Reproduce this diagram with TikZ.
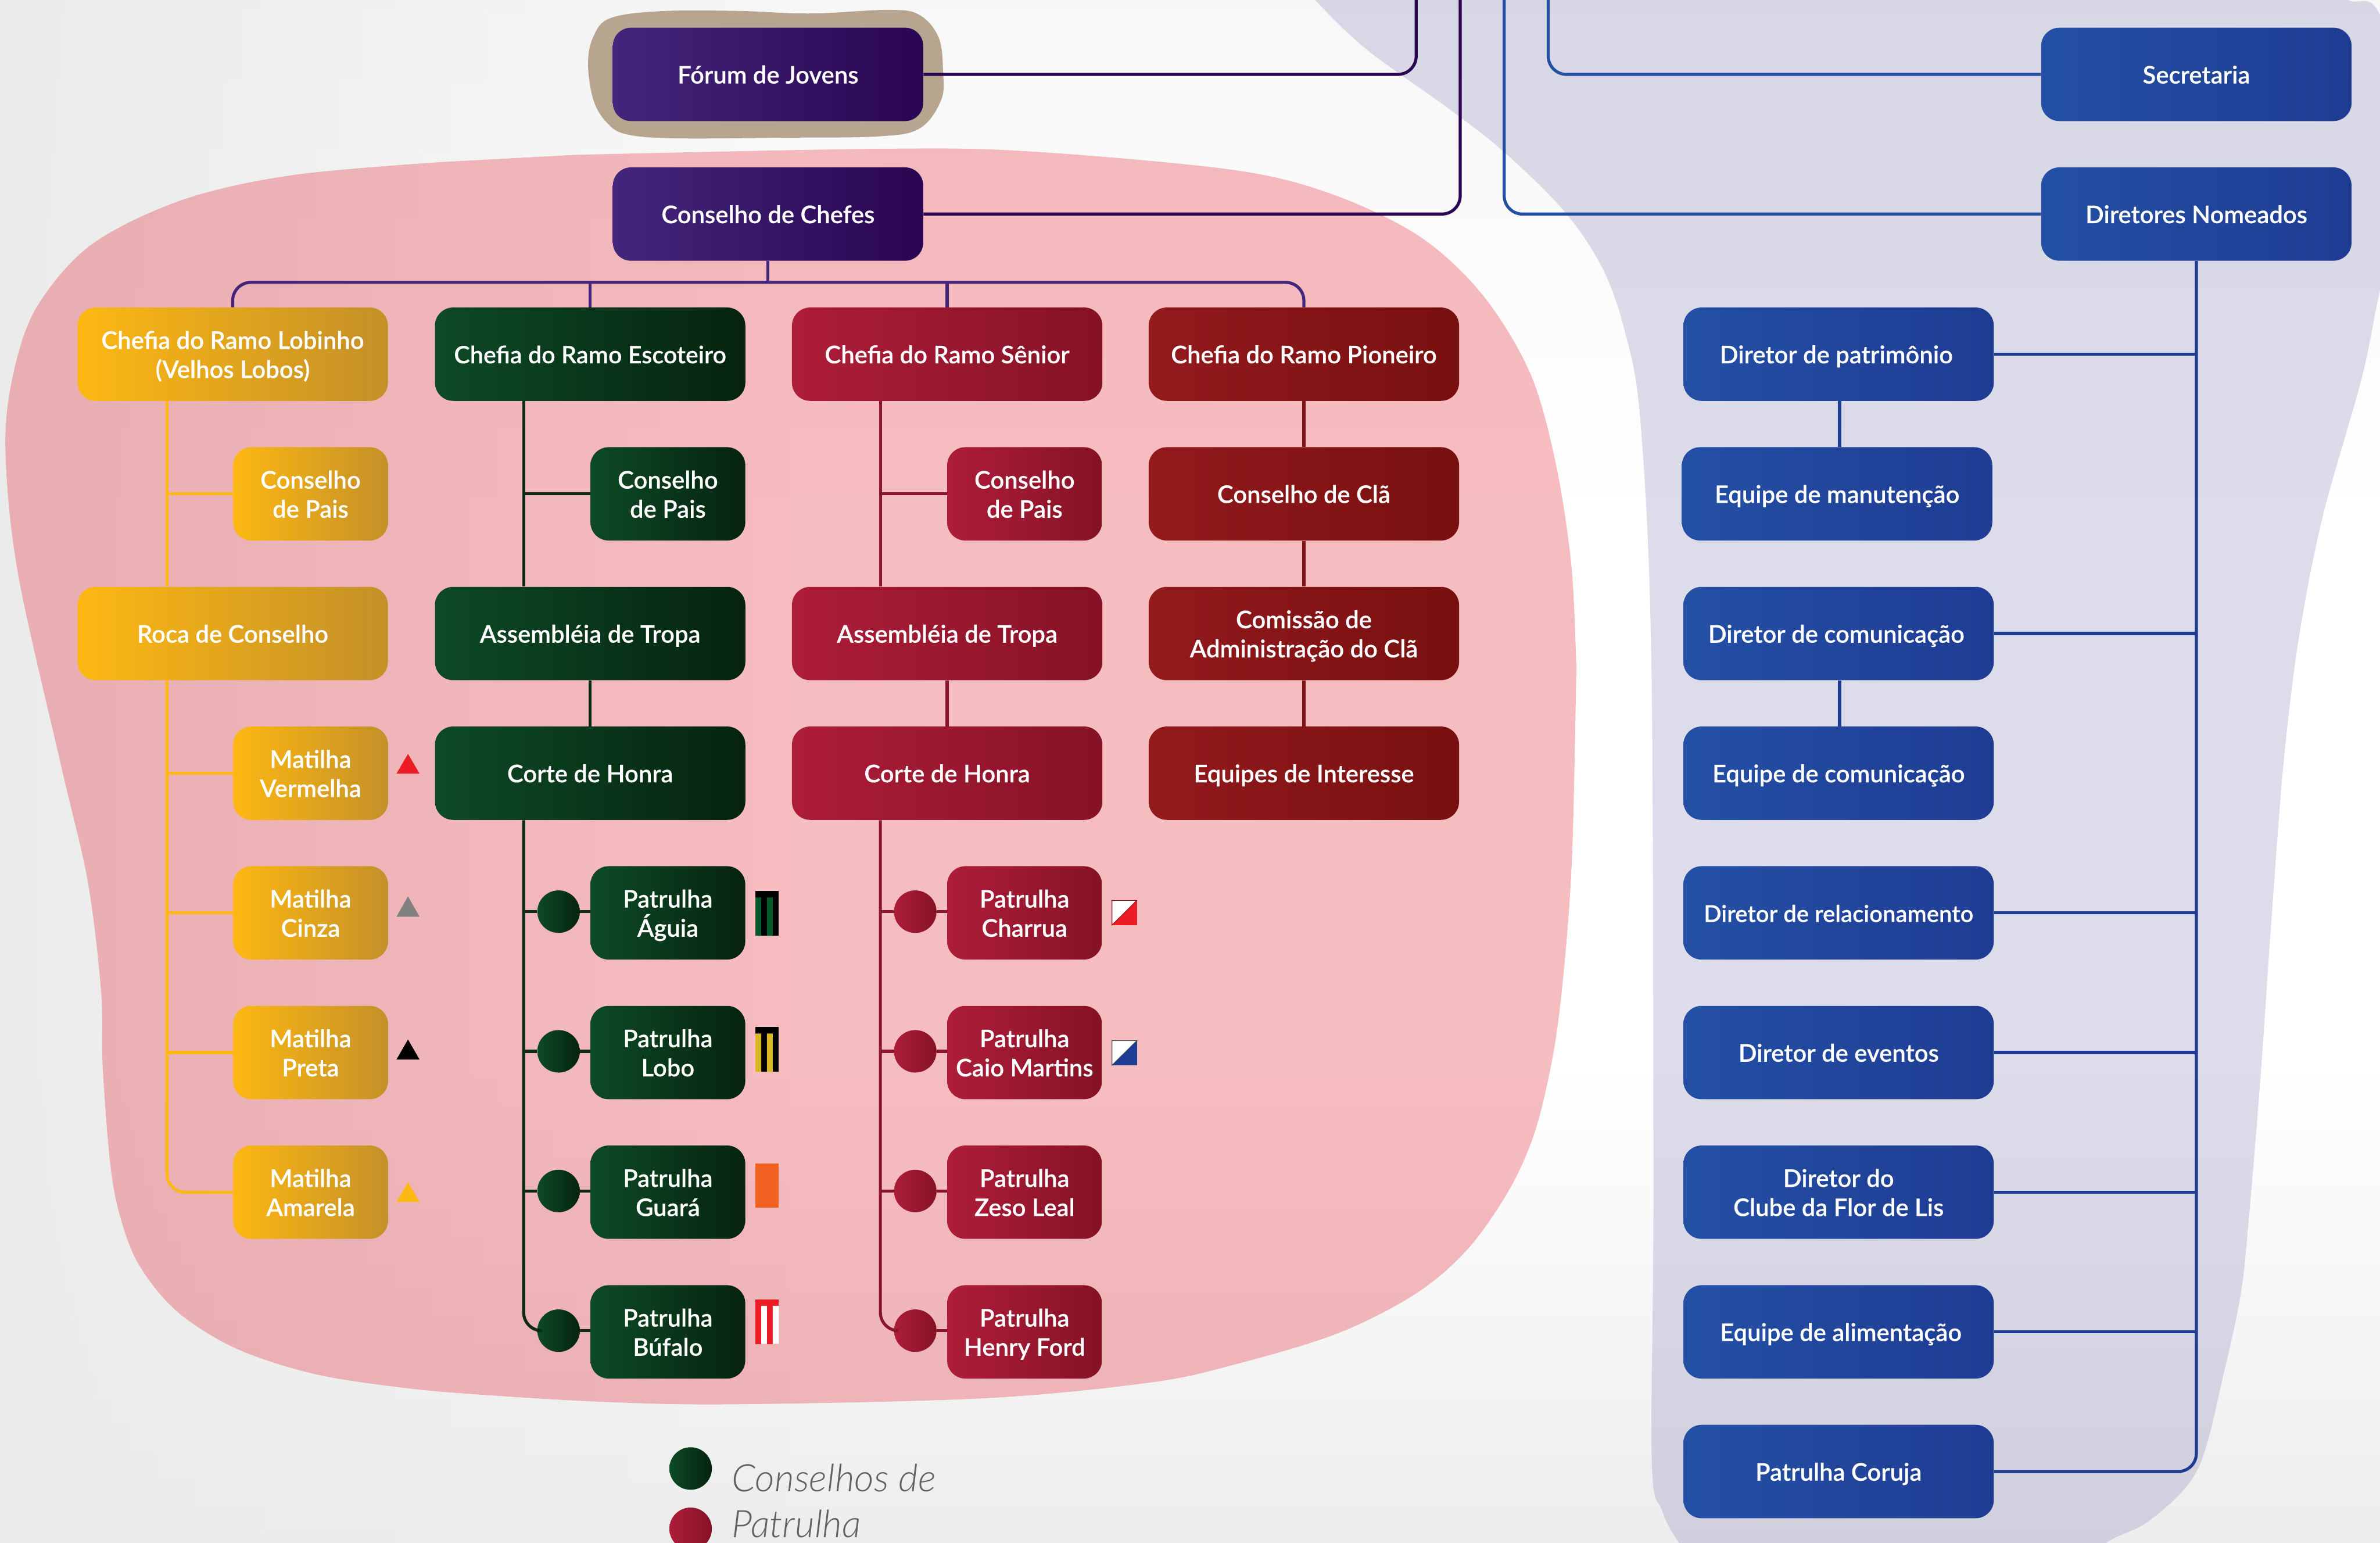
\documentclass[tikz,border=0pt]{standalone}
\usepackage{fontspec}
\setmainfont{Lato}[BoldFont=Lato Semibold,BoldFeatures={FakeBold=0.25}]
\newfontfamily\legendfont{Lato Light Italic}
\usetikzlibrary{fadings}
\definecolor{pA}{HTML}{43267B}\definecolor{pB}{HTML}{2A0552}
\definecolor{yA}{HTML}{FDB813}\definecolor{yB}{HTML}{C49028}
\definecolor{gA}{HTML}{0D4A26}\definecolor{gB}{HTML}{06230F}
\definecolor{rA}{HTML}{AE1D3A}\definecolor{rB}{HTML}{851226}
\definecolor{dA}{HTML}{931A1D}\definecolor{dB}{HTML}{781010}
\definecolor{bA}{HTML}{2350A5}\definecolor{bB}{HTML}{1F3C93}
\definecolor{lineG}{HTML}{0C2A18}
\definecolor{lineR}{HTML}{8A1430}
\definecolor{lineD}{HTML}{7E1216}
\tikzfading[name=fadeLeft, left color=transparent!0, right color=transparent!100]
\tikzset{
 x=1pt,y=-1pt,
 boxnode/.style={rectangle,rounded corners=12pt,inner sep=0pt,minimum height=61.5pt,align=center,text=white,
   font=\fontsize{16}{19.2}\selectfont\bfseries,
   execute at begin node={\rule{0pt}{15pt}},
   execute at end node={\rule[-3pt]{0pt}{3pt}}},
 twoline/.style={execute at begin node={\rule{0pt}{34.4pt}}},
 wide/.style={boxnode,minimum width=204.5pt},
 narrow/.style={boxnode,twoline,minimum width=102pt},
 purplebox/.style={left color=pA,right color=pB},
 yellowbox/.style={left color=yA,right color=yB},
 greenbox/.style={left color=gA,right color=gB},
 redbox/.style={left color=rA,right color=rB},
 darkbox/.style={left color=dA,right color=dB},
 bluebox/.style={left color=bA,right color=bB},
 dotnode/.style={circle,inner sep=0pt,minimum size=28pt},
 conn/.style={line width=2pt},
 connP/.style={conn,draw=pB,rounded corners=12pt},
 connB/.style={conn,draw=bA,rounded corners=12pt},
 connY/.style={conn,draw=yA,rounded corners=12pt},
 connG/.style={conn,draw=lineG,rounded corners=12pt},
 connR/.style={conn,draw=lineR,rounded corners=12pt},
 connD/.style={conn,draw=lineD},
 legendtext/.style={anchor=base west,inner sep=0pt,text=black!62,font=\legendfont\fontsize{25}{25}\selectfont},
}
\begin{document}
\begin{tikzpicture}
\useasboundingbox (0,0) rectangle (1568,1016);
\clip (0,0) rectangle (1568,1016);
% background
\fill[white] (0,0) rectangle (1568,1016);
\shade[top color=white!97!black,bottom color=white] (0,0) rectangle (1568,350);
\shade[top color=white,bottom color=black!7] (0,700) rectangle (1568,1016);
\fill[black!8,path fading=fadeLeft] (0,0) rectangle (520,1016);
% blue area
\fill[fill={rgb,255:red,140;green,140;blue,187},opacity=.3]
  plot[smooth,tension=.55] coordinates {(850,-20)(866.4,0)(900.4,32.6)(956.4,73)(991.6,100.7)(1030.8,139.4)(1055.7,176.6)(1070.4,218)(1080.6,276)(1087.9,432.8)(1089.3,784.4)(1088.2,961.6)(1095,995)(1106,1016)(1125,1040)(1360,1040)(1388,1016)(1417,1001)(1448,967.6)(1465.5,902.6)(1476,853.7)(1480.8,811.5)(1489,712.9)(1496.2,609.4)(1504.5,501.8)(1514.7,419)(1530.2,340.3)(1555.9,249.2)(1568,191.3)(1590,100)(1568,10)(1547,0)(1520,-15)} -- cycle;
% pink area
\fill[fill={rgb,255:red,224;green,0;blue,16},opacity=.26]
  plot[smooth,tension=.55] coordinates {(378.7,102)(579,98)(676,99.6)(811.5,111.8)(877.8,128)(935.6,156)(977,194.6)(1008,245.6)(1024.6,303.6)(1035,370)(1038.3,432.8)(1038.3,452.5)(1035.7,563.9)(1030.6,636)(1023.7,691.8)(1011.6,744.2)(994.4,783.5)(966.8,822.9)(932.3,852.4)(880.5,878.6)(811.5,899.3)(757.4,910.7)(649,921)(483,925)(400,923.5)(324.6,919.2)(269,914.5)(207,905)(155,888)(116,863.3)(91,832.2)(78.7,799.6)(72.5,765.4)(67.7,703.3)(66.6,653)(57.8,580.5)(40.6,505.8)(12,378.7)(3.6,297.5)(8.4,248)(24,202.6)(60.4,161)(120.7,131.5)(193,115.3)(290,106.8)} -- cycle;
% tan area
\fill[fill={rgb,255:red,184;green,165;blue,144}]
  plot[smooth cycle,tension=.6] coordinates {(402,12)(434.4,7.4)(486.2,7.2)(533.8,8.9)(586,6.5)(606,10)(618.5,25)(621.3,47.2)(620,66)(606,84.5)(579.3,89.8)(517.2,90.7)(444.8,91.1)(413,88.5)(400,81)(391,66)(387.4,42)(391,24)};
% purple nodes
\node[wide,purplebox] (forum) at (506,49) {Fórum de Jovens};
\node[wide,purplebox] (chefes) at (506,141) {Conselho de Chefes};
% yellow column
\node[wide,twoline,yellowbox] (lob) at (153.3,233.3) {Chefia do Ramo Lobinho\\(Velhos Lobos)};
\node[narrow,yellowbox] (cpA) at (204.6,325.3) {Conselho\\de Pais};
\node[wide,yellowbox] (roca) at (153.3,417.3) {Roca de Conselho};
\node[narrow,yellowbox] (mver) at (204.6,509.3) {Matilha\\Vermelha};
\node[narrow,yellowbox] (mcin) at (204.6,601.3) {Matilha\\Cinza};
\node[narrow,yellowbox] (mpre) at (204.6,693.3) {Matilha\\Preta};
\node[narrow,yellowbox] (mama) at (204.6,785.3) {Matilha\\Amarela};
% green column
\node[wide,greenbox] (esc) at (388.8,233.3) {\fontsize{15.8}{19.2}\selectfont Chefia do Ramo Escoteiro};
\node[narrow,greenbox] (cpB) at (440,325.3) {Conselho\\de Pais};
\node[wide,greenbox] (asmB) at (388.8,417.3) {Assembléia de Tropa};
\node[wide,greenbox] (corB) at (388.8,509.3) {Corte de Honra};
\node[narrow,greenbox] (pag) at (440,601.3) {Patrulha\\Águia};
\node[narrow,greenbox] (plo) at (440,693.3) {Patrulha\\Lobo};
\node[narrow,greenbox] (pgu) at (440,785.3) {Patrulha\\Guará};
\node[narrow,greenbox] (pbu) at (440,877.3) {Patrulha\\Búfalo};
\node[dotnode,greenbox] (cag) at (368,600.5) {};
\node[dotnode,greenbox] (clo) at (368,692.5) {};
\node[dotnode,greenbox] (cgu) at (368,784.5) {};
\node[dotnode,greenbox] (cbu) at (368,876.5) {};
% red column
\node[wide,redbox] (sen) at (624,233.3) {Chefia do Ramo Sênior};
\node[narrow,redbox] (cpC) at (675,325.3) {Conselho\\de Pais};
\node[wide,redbox] (asmC) at (624,417.3) {Assembléia de Tropa};
\node[wide,redbox] (corC) at (624,509.3) {Corte de Honra};
\node[narrow,redbox] (pch) at (675,601.3) {Patrulha\\Charrua};
\node[narrow,redbox] (pca) at (675,693.3) {Patrulha\\Caio Martins};
\node[narrow,redbox] (pze) at (675,785.3) {Patrulha\\Zeso Leal};
\node[narrow,redbox] (phe) at (675,877.3) {Patrulha\\Henry Ford};
\node[dotnode,redbox] (dch) at (603,600.5) {};
\node[dotnode,redbox] (dca) at (603,692.5) {};
\node[dotnode,redbox] (dze) at (603,784.5) {};
\node[dotnode,redbox] (dhe) at (603,876.5) {};
% pioneer column
\node[wide,darkbox] (pio) at (859,233.3) {Chefia do Ramo Pioneiro};
\node[wide,darkbox] (cla) at (859,325.3) {Conselho de Clã};
\node[wide,twoline,darkbox] (adm) at (859,417.3) {Comissão de\\Administração do Clã};
\node[wide,darkbox] (eqi) at (859,509.3) {Equipes de Interesse};
% blue
\node[wide,bluebox] (sec) at (1447,49) {Secretaria};
\node[wide,bluebox] (dno) at (1447,141) {Diretores Nomeados};
\node[wide,bluebox] (dpa) at (1211.3,233.3) {\hspace*{-3pt}Diretor de patrimônio};
\node[wide,bluebox] (ema) at (1210.3,325.3) {Equipe de manutenção};
\node[wide,bluebox] (dco) at (1211.3,417.3) {\hspace*{-3pt}Diretor de comunicação};
\node[wide,bluebox] (eco) at (1211.3,509.3) {Equipe de comunicação};
\node[wide,bluebox] (dre) at (1211.3,601.3) {\fontsize{15.3}{19.2}\selectfont Diretor de relacionamento};
\node[wide,bluebox] (dev) at (1211.3,693.3) {Diretor de eventos};
\node[wide,twoline,bluebox] (dcl) at (1211.3,785.3) {Diretor do\\Clube da Flor de Lis};
\node[wide,bluebox] (eal) at (1211.3,877.3) {\hspace*{3pt}Equipe de alimentação};
\node[wide,bluebox] (pco) at (1211.3,969.3) {Patrulha Coruja};
% free ends
\coordinate (topP1) at (933,-5);
\coordinate (topP2) at (962,-5);
\coordinate (topB1) at (1020,-5);
\coordinate (topB2) at (991,-5);
\coordinate (busmid) at (506,186);
\coordinate (yx) at (110,0);
\coordinate (gx) at (345,0);
\coordinate (rx) at (580,0);
\coordinate (bx) at (1212,0);
% connectors: top
\draw[connP] (forum.east) -| (topP1);
\draw[connP] (chefes.east) -| (topP2);
\draw[connB] (sec.west) -| (topB1);
\draw[connB] (dno.west) -| (topB2);
\draw[conn,draw=pA] (chefes.south) -- (busmid);
\draw[conn,draw=pA,rounded corners=12pt] (lob.north) |- (busmid) -| (pio.north);
\draw[conn,draw=pA] (esc.north) -- (esc.north |- busmid);
\draw[conn,draw=pA] (sen.north) -- (sen.north |- busmid);
% yellow connectors
\draw[connY] (lob.south -| yx) -- (roca.north -| yx);
\draw[connY] (cpA.west) -- (cpA.west -| yx);
\draw[connY] (roca.south -| yx) |- (mama.west);
\draw[connY] (mver.west) -- (mver.west -| yx);
\draw[connY] (mcin.west) -- (mcin.west -| yx);
\draw[connY] (mpre.west) -- (mpre.west -| yx);
% green connectors
\draw[connG] (esc.south -| gx) -- (asmB.north -| gx);
\draw[connG] (cpB.west) -- (cpB.west -| gx);
\draw[connG] (asmB.south) -- (corB.north);
\draw[connG] (corB.south -| gx) |- (cbu.west);
\draw[connG] (cag.west) -- (cag.west -| gx);
\draw[connG] (clo.west) -- (clo.west -| gx);
\draw[connG] (cgu.west) -- (cgu.west -| gx);
\draw[connG] (cag.east) -- (pag.west |- cag.east);
\draw[connG] (clo.east) -- (plo.west |- clo.east);
\draw[connG] (cgu.east) -- (pgu.west |- cgu.east);
\draw[connG] (cbu.east) -- (pbu.west |- cbu.east);
% red connectors
\draw[connR] (sen.south -| rx) -- (asmC.north -| rx);
\draw[connR] (cpC.west) -- (cpC.west -| rx);
\draw[connR] (asmC.south) -- (corC.north);
\draw[connR] (corC.south -| rx) |- (dhe.west);
\draw[connR] (dch.west) -- (dch.west -| rx);
\draw[connR] (dca.west) -- (dca.west -| rx);
\draw[connR] (dze.west) -- (dze.west -| rx);
\draw[connR] (dch.east) -- (pch.west |- dch.east);
\draw[connR] (dca.east) -- (pca.west |- dca.east);
\draw[connR] (dze.east) -- (pze.west |- dze.east);
\draw[connR] (dhe.east) -- (phe.west |- dhe.east);
% pioneer connectors
\draw[connD] (pio.south) -- (cla.north);
\draw[connD] (cla.south) -- (adm.north);
\draw[connD] (adm.south) -- (eqi.north);
% blue connectors
\draw[connB,draw=bB] (dno.south) |- (pco.east);
\draw[connB,draw=bB] (dpa.east) -- (dpa.east -| dno.south);
\draw[connB,draw=bB] (dco.east) -- (dco.east -| dno.south);
\draw[connB,draw=bB] (dre.east) -- (dre.east -| dno.south);
\draw[connB,draw=bB] (dev.east) -- (dev.east -| dno.south);
\draw[connB,draw=bB] (dcl.east) -- (dcl.east -| dno.south);
\draw[connB,draw=bB] (eal.east) -- (eal.east -| dno.south);
\draw[connB,draw=bB] (dpa.south -| bx) -- (ema.north -| bx);
\draw[connB,draw=bB] (dco.south -| bx) -- (eco.north -| bx);
% triangles
\fill[fill={rgb,255:red,237;green,28;blue,36}] (261.2,509.6) -- (268.8,496.6) -- (276.4,509.6) -- cycle;
\fill[fill={rgb,255:red,128;green,128;blue,128}] (261.2,603.8) -- (268.8,590.5) -- (276.4,603.8) -- cycle;
\fill[fill=black] (261.2,697.9) -- (268.8,684.7) -- (276.4,697.9) -- cycle;
\fill[fill=yA] (261.2,791.7) -- (268.8,778.7) -- (276.4,791.7) -- cycle;
% flags
\fill[black] (497.7,587) rectangle (513.1,616.4);
\fill[fill={rgb,255:red,5;green,90;blue,44}] (497.7,591.2) rectangle (501.5,616.4) (505.3,591.2) rectangle (509.1,616.4);
\fill[black] (497.7,676.6) rectangle (513.1,706);
\fill[fill={rgb,255:red,216;green,184;blue,38}] (497.7,680.8) rectangle (501.5,706) (505.3,680.8) rectangle (509.1,706);
\fill[fill={rgb,255:red,242;green,97;blue,34}] (497.7,766.3) rectangle (513.1,795.6);
\fill[fill={rgb,255:red,237;green,28;blue,36}] (497.7,855.9) rectangle (513.1,885.3);
\fill[white] (501.5,860.1) rectangle (505.3,885.3) (509.1,860.1) rectangle (513.1,885.3);
\fill[fill={rgb,255:red,237;green,28;blue,36}] (732.5,593) rectangle (749,609.4);
\filldraw[fill=white,draw=rB,line width=.4pt] (732.6,609.3) -- (732.6,593.1) -- (748.9,593.1) -- cycle;
\fill[bB] (732.5,685.4) rectangle (749,701.7);
\filldraw[fill=white,draw=black!70,line width=.4pt] (732.6,701.6) -- (732.6,685.5) -- (748.9,685.5) -- cycle;
% legend
\node[dotnode,greenbox] (lega) at (455,967.3) {};
\node[dotnode,redbox] (legb) at (455,1007) {};
\node[legendtext] (legt1) at (482,982.5) {Conselhos de};
\node[legendtext] (legt2) at (482,1012.7) {Patrulha};
\end{tikzpicture}
\end{document}
